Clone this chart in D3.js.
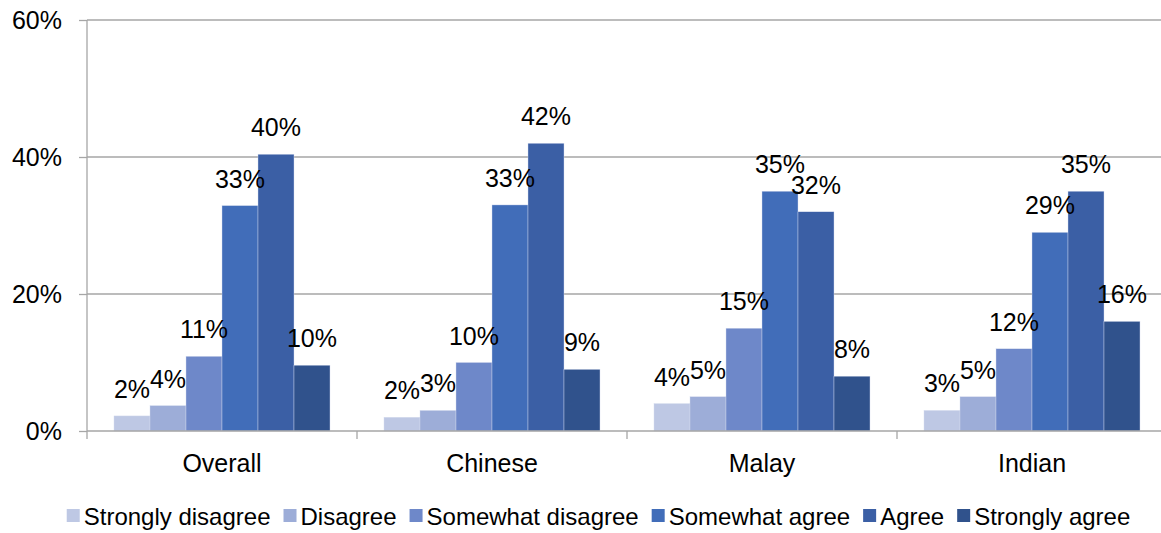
<!DOCTYPE html>
<html><head><meta charset="utf-8">
<script src="https://cdn.jsdelivr.net/npm/d3@7"></script>
<style>body{margin:0;background:#fff}text{font-family:"Liberation Sans",Arial,sans-serif;fill:#000}</style>
</head><body><svg id="c" width="1161" height="533"></svg>
<script>
const categories = ["Overall","Chinese","Malay","Indian"];
const seriesNames = ["Strongly disagree","Disagree","Somewhat disagree","Somewhat agree","Agree","Strongly agree"];
const colors = ["#bec8e4","#9dadd8","#6e88c9","#416db9","#3b5fa5","#30528c"];
const stronglyDisagree = [2.2,2,4,3];
const disagree = [3.7,3,5,5];
const somewhatDisagree = [10.9,10,15,12];
const somewhatAgree = [32.9,33,35,29];
const agree = [40.4,42,32,35];
const stronglyAgree = [9.6,9,8,16];
const yTicks = [0,20,40,60];
const seriesValues = [stronglyDisagree,disagree,somewhatDisagree,somewhatAgree,agree,stronglyAgree];

const svg = d3.select("#c");
const x0 = d3.scaleBand().domain(categories).range([87,1167]);
const x1 = d3.scaleBand().domain(seriesNames).range([27, x0.bandwidth()-27]);
const y = d3.scaleLinear().domain([0,60]).range([431,20]);
const fs = 25;
const lfs = 24;

// gridlines
svg.append("g").selectAll("line").data(yTicks.filter(d=>d>0)).join("line")
  .attr("x1",87).attr("x2",1161).attr("y1",d=>y(d)).attr("y2",d=>y(d))
  .attr("stroke","#a6a6a6").attr("stroke-width",1.3);

// bars
const g = svg.append("g");
seriesValues.forEach((vals,si)=>{
  g.append("g").selectAll("rect").data(vals).join("rect")
    .attr("x",(d,i)=>x0(categories[i])+x1(seriesNames[si]))
    .attr("y",d=>y(d)).attr("width",x1.bandwidth()).attr("height",d=>y(0)-y(d))
    .attr("fill",colors[si]).attr("stroke","#d4dbee").attr("stroke-width",0.4);
});
// labels
seriesValues.forEach((vals,si)=>{
  g.append("g").selectAll("text").data(vals).join("text")
    .attr("x",(d,i)=>x0(categories[i])+x1(seriesNames[si])+x1.bandwidth()/2)
    .attr("y",d=>y(d)-18).attr("text-anchor","middle").attr("font-size",fs)
    .text(d=>Math.round(d)+"%");
});

// axes
const yAxis = svg.append("g").attr("transform","translate(87,0)")
  .call(d3.axisLeft(y).tickValues(yTicks).tickFormat(d=>d+"%").tickSize(8).tickPadding(17));
yAxis.select(".domain").remove();
yAxis.selectAll("line").attr("stroke","#a6a6a6").attr("stroke-width",1.3);
yAxis.selectAll("text").attr("font-size",fs).attr("font-family",null).attr("fill","#000");
svg.append("line").attr("x1",87).attr("x2",87).attr("y1",20).attr("y2",439).attr("stroke","#a6a6a6").attr("stroke-width",1.3);
svg.append("line").attr("x1",87).attr("x2",1161).attr("y1",y(0)).attr("y2",y(0)).attr("stroke","#a6a6a6").attr("stroke-width",1.3);
svg.append("g").selectAll("line").data(categories.slice(1)).join("line")
  .attr("x1",d=>x0(d)).attr("x2",d=>x0(d)).attr("y1",y(0)).attr("y2",439)
  .attr("stroke","#a6a6a6").attr("stroke-width",1.3);
svg.append("g").selectAll("text").data(categories).join("text")
  .attr("x",d=>x0(d)+x0.bandwidth()/2).attr("y",472).attr("text-anchor","middle")
  .attr("font-size",fs).text(d=>d);

// legend
const leg = svg.append("g");
const items = leg.selectAll("g").data(seriesNames).join("g");
items.append("rect").attr("width",13).attr("height",13).attr("y",509).attr("fill",(d,i)=>colors[i]);
items.append("text").attr("x",17).attr("y",525).attr("font-size",lfs).text(d=>d);
let xpos = 0;
const pos = [];
const gap = 13;
items.each(function(){ const w = this.querySelector("text").getComputedTextLength(); pos.push(xpos); xpos += 17 + w + gap; });
const total = xpos - gap;
const start = 598.5 - total/2;
items.attr("transform",(d,i)=>`translate(${start+pos[i]},0)`);
</script></body></html>
